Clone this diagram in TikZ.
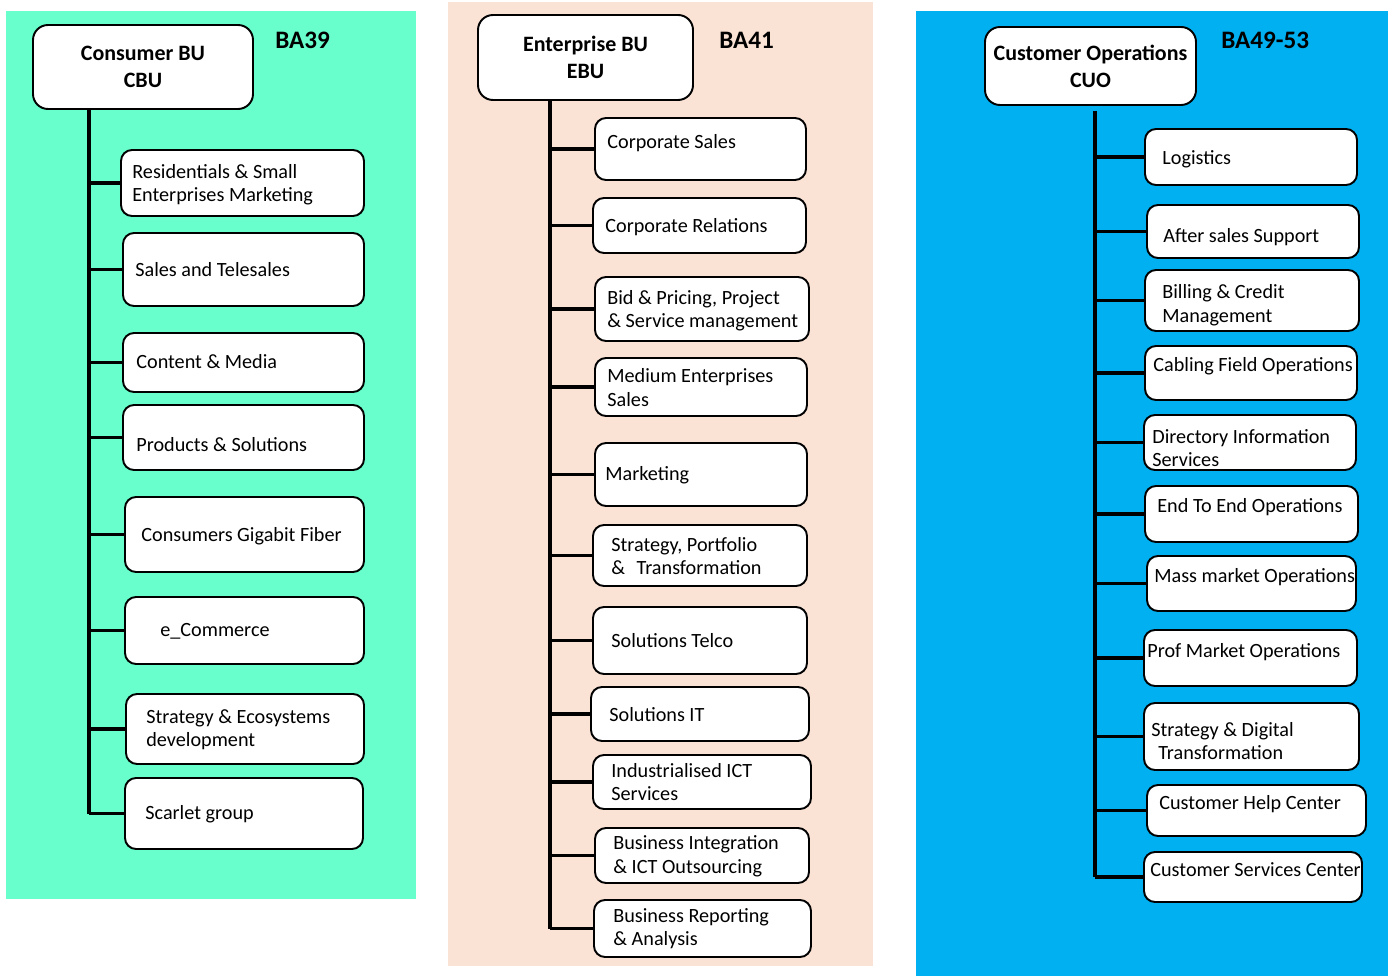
\documentclass[tikz,border=0pt]{standalone}
\usepackage{fontspec}
\setmainfont{Carlito}
\usetikzlibrary{positioning}
\usetikzlibrary{fit}
\definecolor{cbugreen}{RGB}{104,255,204}
\definecolor{ebupeach}{RGB}{250,226,212}
\definecolor{cuoblue}{RGB}{0,176,240}
\tikzset{
  orgunit/.style={draw, fill=white, line width=1.1pt, rounded corners=0.22cm, inner sep=0pt},
  unittext/.style={inner sep=0pt, anchor=west, align=left, font=\fontsize{11.5}{13.4}\selectfont},
  headbox/.style={draw, fill=white, line width=1.1pt, rounded corners=0.3cm, inner sep=0pt},
  headtext/.style={inner sep=0pt, align=center, font=\bfseries\fontsize{12.5}{15.3}\selectfont},
  balabel/.style={anchor=west, inner sep=0pt, font=\bfseries\fontsize{14.3}{16}\selectfont},
  trunk/.style={line width=2pt},
  branch/.style={line width=2pt},
}
% box drawn from its corners, text placed on its own
\newcommand{\orgbox}[8]{%
  \node[orgunit, fit={(#2,#3) (#4,#5)}] (#1) {};
  \node[unittext] (#1-t) at (#6,#7) {#8};
}
\begin{document}
\begin{tikzpicture}[x=0.02cm, y=-0.02cm]
  \useasboundingbox (0,0) rectangle (1396,976);
  % Panels
  \fill[cbugreen] (6,11) rectangle (416,899);
  \fill[ebupeach] (448,2) rectangle (873,966);
  \fill[cuoblue] (916,11) rectangle (1388,976);

  % Consumer BU
  \node[headbox, fit={(33,25) (253,109)}] (cbu) {};
  \node[headtext] (cbu-t) at (cbu.center) {Consumer BU\\CBU};
  \node[balabel] (cbu-ba) at (275,40) {BA39};
  \orgbox{c1}{121}{150}{364}{216}{132}{184.5}{Residentials \& Small\\Enterprises Marketing}
  \orgbox{c2}{123}{233}{364}{306}{135}{270}{Sales and Telesales}
  \orgbox{c3}{123}{333}{364}{392}{136}{362}{Content \& Media}
  \orgbox{c4}{123}{405}{364}{470}{136}{445}{Products \& Solutions}
  \orgbox{c5}{125}{497}{364}{572}{141}{536}{Consumers Gigabit Fiber}
  \orgbox{c6}{125}{597}{364}{664}{160}{631}{e\_Commerce}
  \orgbox{c7}{126}{694}{364}{764}{146}{729.5}{Strategy \& Ecosystems\\development}
  \orgbox{c8}{125}{778}{363}{849}{145}{814}{Scarlet group}
  \coordinate (cbu-top) at (89,109);
  \draw[trunk] (cbu-top) -- (cbu-top |- c8.west);
  \foreach \i in {1,...,8}
    \draw[branch] (cbu-top |- c\i.west) -- (c\i.west);

  % Enterprise BU
  \node[headbox, fit={(478,15) (693,100)}] (ebu) {};
  \node[headtext] (ebu-t) at (ebu.center) {Enterprise BU\\EBU};
  \node[balabel] (ebu-ba) at (719,40) {BA41};
  \orgbox{e1}{595}{118}{806}{180}{607}{143}{Corporate Sales}
  \orgbox{e2}{593}{198}{806}{253}{605}{227}{Corporate Relations}
  \orgbox{e3}{595}{277}{809}{341}{607}{310.5}{Bid \& Pricing, Project\\\& Service management}
  \orgbox{e4}{595}{358}{807}{416}{607}{387.5}{Medium Enterprises\\Sales}
  \orgbox{e5}{595}{443}{807}{506}{605}{475}{Marketing}
  \orgbox{e6}{593}{525}{807}{586}{611}{556}{Strategy, Portfolio\\\&\hspace*{4pt} Transformation}
  \orgbox{e7}{593}{607}{807}{674}{611}{641}{Solutions Telco}
  \orgbox{e8}{591}{687}{809}{741}{609}{715}{Solutions IT}
  \orgbox{e9}{593}{755}{811}{809}{611}{782}{Industrialised ICT\\Services}
  \orgbox{e10}{595}{828}{809}{883}{613}{856.5}{Business Integration\\\& ICT Outsourcing}
  \orgbox{e11}{594}{900}{811}{957}{613}{928.5}{Business Reporting\\\& Analysis}
  \coordinate (ebu-top) at (550,100);
  \draw[trunk] (ebu-top) -- (ebu-top |- e11.west);
  \foreach \i in {1,...,11}
    \draw[branch] (ebu-top |- e\i.west) -- (e\i.west);

  % Customer Operations
  \node[headbox, fit={(985,27) (1196,105)}] (cuo) {};
  \node[headtext] (cuo-t) at (cuo.center) {Customer Operations\\CUO};
  \node[balabel] (cuo-ba) at (1221,40) {BA49-53};
  \orgbox{o1}{1145}{129}{1357}{185}{1162}{159}{Logistics}
  \orgbox{o2}{1147}{205}{1359}{258}{1163}{237}{After sales Support}
  \orgbox{o3}{1145}{270}{1359}{331}{1162}{305}{Billing \& Credit\\Management}
  \orgbox{o4}{1145}{346}{1357}{400}{1153}{366}{Cabling Field Operations}
  \orgbox{o5}{1144}{415}{1356}{470}{1152}{448}{Directory Information\\Services}
  \orgbox{o6}{1145}{486}{1358}{542}{1157}{507}{End To End Operations}
  \orgbox{o7}{1147}{556}{1356}{611}{1154}{577}{Mass market Operations}
  \orgbox{o8}{1144}{630}{1357}{686}{1147}{652}{Prof Market Operations}
  \orgbox{o9}{1144}{703}{1359}{770}{1151}{741}{Strategy \& Digital\\\hspace*{4pt}Transformation}
  \orgbox{o10}{1147}{785}{1366}{836}{1159}{804}{Customer Help Center}
  \orgbox{o11}{1144}{852}{1362}{902}{1150}{870}{Customer Services Center}
  \coordinate (cuo-top) at (1095,111);
  \draw[trunk] (cuo-top) -- (cuo-top |- o11.west);
  \foreach \i in {1,...,11}
    \draw[branch] (cuo-top |- o\i.west) -- (o\i.west);
\end{tikzpicture}
\end{document}
